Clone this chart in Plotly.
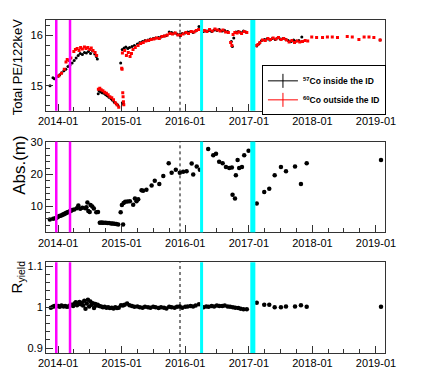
import plotly.graph_objects as go
from plotly.subplots import make_subplots

# ---- panel 1: total PE / 122 keV ----
pe_in_dates = [
    "2013-11-15", "2013-12-02", "2013-12-10", "2014-01-01", "2014-01-10", "2014-01-22",
    "2014-02-03", "2014-02-14", "2014-02-26", "2014-03-10", "2014-03-22", "2014-04-03",
    "2014-04-14", "2014-04-26", "2014-05-08", "2014-05-20", "2014-06-01", "2014-06-12",
    "2014-06-24", "2014-07-06", "2014-07-18", "2014-07-30", "2014-08-08", "2014-08-14",
    "2014-08-19", "2014-08-24", "2014-09-01", "2014-09-10", "2014-09-20", "2014-10-01",
    "2014-10-10", "2014-10-20", "2014-11-01", "2014-11-10", "2014-11-20", "2014-12-01",
    "2014-12-10", "2014-12-26", "2015-01-05", "2015-01-10", "2015-01-04", "2015-01-15",
    "2015-01-25", "2015-02-05", "2015-02-15", "2015-03-01", "2015-03-15", "2015-04-01",
    "2015-04-15", "2015-05-01", "2015-05-15", "2015-06-01", "2015-06-15", "2015-07-01",
    "2015-07-15", "2015-08-01", "2015-08-15", "2015-09-01", "2015-09-15", "2015-10-01",
    "2015-10-15", "2015-11-01", "2015-11-15", "2015-12-01", "2015-12-15", "2016-01-01",
    "2016-01-15", "2016-02-01", "2016-02-15", "2016-03-01", "2016-03-20", "2016-04-15",
    "2016-05-01", "2016-05-15", "2016-06-01", "2016-06-15", "2016-07-01", "2016-07-15",
    "2016-08-01", "2016-08-15", "2016-09-01", "2016-09-22", "2016-09-28", "2016-10-06",
    "2016-10-18", "2016-11-01", "2016-11-15", "2016-12-01", "2016-12-15", "2017-02-15",
    "2017-03-01", "2017-03-15", "2017-04-01", "2017-04-15", "2017-05-01", "2017-05-15",
    "2017-06-01", "2017-06-15", "2017-07-01", "2017-07-15", "2017-08-01", "2017-08-15",
    "2017-09-01", "2017-09-15", "2017-10-01", "2017-10-15", "2017-11-01", "2019-01-25",
]
pe_in = [
    15.00, 15.16, 15.14, 15.19, 15.22, 15.26,
    15.30, 15.33, 15.38, 15.41, 15.45, 15.50,
    15.55, 15.60, 15.64, 15.62, 15.66, 15.65,
    15.68, 15.64, 15.69, 15.63, 15.58, 15.53,
    14.84, 14.90, 14.88, 14.86, 14.85, 14.82,
    14.80, 14.77, 14.74, 14.71, 14.67, 14.64,
    14.61, 15.45, 14.66, 14.64, 15.72, 15.75,
    15.77, 15.74, 15.76, 15.78, 15.80, 15.83,
    15.86, 15.88, 15.90, 15.91, 15.93, 15.94,
    15.95, 15.96, 15.97, 15.99, 16.00, 16.07,
    16.06, 16.05, 16.03, 16.02, 16.04, 16.05,
    16.07, 16.08, 16.06, 16.09, 16.18, 16.08,
    16.09, 16.10, 16.08, 16.11, 16.10, 16.12,
    16.09, 16.10, 16.08, 15.88, 15.78, 15.95,
    16.07, 16.08, 16.06, 16.09, 16.07, 15.79,
    15.84, 15.90, 15.92, 15.93, 15.91, 15.94,
    15.92, 15.95, 15.93, 15.94, 15.92, 15.90,
    15.88, 15.91, 15.89, 15.90, 15.97, 15.91,
]

pe_out_dates = [
    "2014-01-05", "2014-01-20", "2014-02-05", "2014-02-15", "2014-02-22", "2014-03-05",
    "2014-03-15", "2014-04-01", "2014-04-10", "2014-04-20", "2014-05-01", "2014-05-10",
    "2014-05-20", "2014-06-01", "2014-06-10", "2014-06-20", "2014-07-01", "2014-07-10",
    "2014-07-20", "2014-08-01", "2014-08-10", "2014-08-20", "2014-08-28", "2014-09-05",
    "2014-09-15", "2014-09-25", "2014-10-05", "2014-10-15", "2014-10-25", "2014-11-05",
    "2014-11-15", "2014-11-25", "2014-12-05", "2014-12-15", "2015-01-01", "2015-01-03",
    "2015-01-07", "2015-01-09", "2015-01-11", "2015-01-13", "2015-01-05", "2015-01-18",
    "2015-01-28", "2015-02-08", "2015-02-18", "2015-02-26", "2015-03-07", "2015-03-20",
    "2015-04-05", "2015-04-20", "2015-05-05", "2015-05-20", "2015-06-05", "2015-06-20",
    "2015-07-05", "2015-07-20", "2015-08-05", "2015-08-20", "2015-09-05", "2015-09-20",
    "2015-10-05", "2015-10-20", "2015-11-05", "2015-11-20", "2015-12-05", "2015-12-20",
    "2016-01-05", "2016-01-20", "2016-02-05", "2016-02-20", "2016-03-05", "2016-03-18",
    "2016-04-20", "2016-05-05", "2016-05-20", "2016-06-05", "2016-06-20", "2016-07-05",
    "2016-07-20", "2016-08-05", "2016-08-20", "2016-09-05", "2016-09-18", "2016-09-25",
    "2016-10-02", "2016-10-12", "2016-10-25", "2016-11-05", "2016-11-20", "2016-12-05",
    "2016-12-20", "2017-02-12", "2017-02-22", "2017-03-05", "2017-03-20", "2017-04-05",
    "2017-04-20", "2017-05-05", "2017-05-20", "2017-06-05", "2017-06-20", "2017-07-05",
    "2017-07-20", "2017-08-05", "2017-08-20", "2017-09-05", "2017-09-20", "2017-10-05",
    "2017-10-20", "2017-11-05", "2017-11-20", "2017-12-05", "2017-12-28", "2018-01-25",
    "2018-02-28", "2018-03-28", "2018-04-25", "2018-05-25", "2018-07-20", "2018-08-18",
    "2018-09-25", "2018-10-25", "2018-11-22", "2018-12-20", "2019-01-25",
]
pe_out = [
    15.20, 15.25, 15.33, 15.47, 15.52, 15.50,
    15.55, 15.68, 15.72, 15.74, 15.70, 15.76,
    15.73, 15.77, 15.74, 15.76, 15.72, 15.75,
    15.70, 15.66, 15.60, 14.93, 14.95, 14.92,
    14.90, 14.87, 14.85, 14.82, 14.78, 14.76,
    14.72, 14.66, 14.62, 14.57, 15.35, 15.33,
    14.86, 14.78, 14.68, 14.62, 15.65, 15.70,
    15.60, 15.66, 15.58, 15.64, 15.72, 15.76,
    15.80, 15.84, 15.86, 15.89, 15.90, 15.92,
    15.93, 15.95, 15.94, 15.98, 15.99, 16.01,
    16.04, 16.03, 16.05, 16.01, 16.00, 16.03,
    16.06, 16.04, 16.08, 16.07, 16.10, 16.12,
    16.10, 16.08, 16.12, 16.09, 16.13, 16.11,
    16.09, 16.11, 16.07, 16.06, 15.86, 15.80,
    16.02, 16.06, 16.05, 16.07, 16.04, 16.08,
    16.06, 15.80, 15.82, 15.86, 15.91, 15.90,
    15.94, 15.92, 15.95, 15.93, 15.96, 15.92,
    15.94, 15.91, 15.87, 15.90, 15.86, 15.89,
    15.87, 15.88, 15.90, 15.89, 15.97, 15.96,
    15.96, 15.97, 15.97, 15.96, 15.98, 15.97,
    15.92, 15.97, 15.97, 15.96, 15.91,
]

# ---- panel 2: absorption length (m) ----
abs_dates = [
    "2013-11-14", "2013-12-03", "2013-12-15", "2013-12-22", "2013-12-30", "2014-01-07",
    "2014-01-14", "2014-01-22", "2014-01-28", "2014-02-03", "2014-02-09", "2014-02-14",
    "2014-02-20", "2014-02-26", "2014-03-04", "2014-03-10", "2014-03-16", "2014-03-22",
    "2014-04-03", "2014-04-18", "2014-04-27", "2014-05-08", "2014-05-20", "2014-06-06",
    "2014-06-12", "2014-06-18", "2014-06-23", "2014-07-01", "2014-07-06", "2014-07-16",
    "2014-07-25", "2014-08-08", "2014-08-18", "2014-08-28", "2014-09-05", "2014-09-12",
    "2014-09-20", "2014-10-01", "2014-10-10", "2014-10-20", "2014-11-01", "2014-11-10",
    "2014-11-20", "2014-12-01", "2014-12-12", "2014-12-26", "2015-01-02", "2015-01-09",
    "2015-01-12", "2015-01-21", "2015-02-03", "2015-02-17", "2015-03-08", "2015-03-18",
    "2015-03-27", "2015-04-06", "2015-04-25", "2015-05-04", "2015-05-23", "2015-06-22",
    "2015-07-10", "2015-08-05", "2015-08-28", "2015-09-28", "2015-10-15", "2015-11-08",
    "2015-12-01", "2015-12-20", "2016-01-09", "2016-02-07", "2016-02-16", "2016-03-07",
    "2016-03-25", "2016-05-12", "2016-06-10", "2016-06-26", "2016-07-14", "2016-08-03",
    "2016-08-22", "2016-09-10", "2016-09-25", "2016-09-29", "2016-10-13", "2016-10-18",
    "2016-10-28", "2016-11-06", "2016-11-22", "2016-12-05", "2016-12-30", "2017-02-15",
    "2017-03-30", "2017-04-28", "2017-05-29", "2017-07-04", "2017-08-02", "2017-09-23",
    "2017-10-27", "2017-11-29", "2019-01-30",
]
abs_len = [
    5.85, 6.06, 6.2, 6.3, 6.6, 6.9,
    7.0, 7.2, 7.4, 7.5, 7.7, 7.8,
    8.0, 8.1, 8.3, 8.4, 8.6, 8.8,
    9.0, 9.4, 10.2, 9.2, 9.5, 9.4,
    9.7, 11.2, 8.5, 8.2, 10.4, 9.9,
    9.3, 8.1, 8.2, 4.85, 4.9, 4.85,
    4.8, 4.8, 4.75, 4.7, 4.6, 4.55,
    4.5, 4.45, 4.3, 8.1, 10.4, 4.3,
    11.0, 11.4, 11.5, 11.6, 10.5, 12.4,
    11.6, 12.2, 15.0, 14.9, 15.2, 16.5,
    18.0, 17.0, 19.5, 23.5, 20.5, 21.5,
    20.5, 20.8, 21.0, 23.4, 20.0, 22.5,
    21.5, 28.0, 26.0, 26.5, 24.0, 23.5,
    22.3, 22.0, 22.2, 13.6, 12.4, 19.7,
    24.5, 22.0, 22.3, 26.0, 27.4, 10.9,
    14.5, 15.5, 19.7, 22.3, 21.0, 22.5,
    17.0, 23.5, 24.5,
]

# ---- panel 3: R_yield ----
r_dates = [
    "2013-11-20", "2013-12-01", "2013-12-10", "2013-12-20", "2014-01-01", "2014-01-10",
    "2014-01-20", "2014-02-01", "2014-02-10", "2014-02-20", "2014-03-01", "2014-03-10",
    "2014-03-20", "2014-03-28", "2014-04-05", "2014-04-12", "2014-04-19", "2014-04-26",
    "2014-05-03", "2014-05-10", "2014-05-17", "2014-05-24", "2014-05-31", "2014-06-07",
    "2014-06-14", "2014-06-21", "2014-06-28", "2014-07-05", "2014-07-12", "2014-07-19",
    "2014-07-26", "2014-08-02", "2014-08-09", "2014-08-16", "2014-08-25", "2014-09-05",
    "2014-09-15", "2014-09-25", "2014-10-05", "2014-10-15", "2014-10-25", "2014-11-05",
    "2014-11-15", "2014-11-25", "2014-12-05", "2014-12-15", "2014-12-28", "2015-01-08",
    "2015-01-18", "2015-02-01", "2015-02-15", "2015-03-01", "2015-03-15", "2015-04-01",
    "2015-04-15", "2015-05-01", "2015-05-15", "2015-06-01", "2015-06-15", "2015-07-01",
    "2015-07-15", "2015-08-01", "2015-08-15", "2015-09-01", "2015-09-15", "2015-10-01",
    "2015-10-15", "2015-11-01", "2015-11-15", "2015-12-01", "2015-12-15", "2016-01-01",
    "2016-01-15", "2016-02-01", "2016-02-15", "2016-03-01", "2016-03-20", "2016-04-15",
    "2016-05-01", "2016-05-15", "2016-06-01", "2016-06-15", "2016-07-01", "2016-07-15",
    "2016-08-01", "2016-08-15", "2016-09-01", "2016-09-15", "2016-10-01", "2016-10-15",
    "2016-11-01", "2016-11-15", "2016-12-01", "2016-12-20", "2017-02-15", "2017-03-30",
    "2017-04-28", "2017-05-29", "2017-07-04", "2017-08-02", "2017-09-23", "2017-10-27",
    "2017-11-29", "2019-01-30",
]
r_yield = [
    0.999, 1.001, 1.003, 1.002, 1.003, 1.001,
    1.004, 1.002, 1.003, 1.001, 1.002, 1.004,
    1.006, 1.003, 1.009, 1.012, 1.005, 1.010,
    1.013, 1.007, 1.011, 1.004, 1.016, 0.996,
    1.009, 1.018, 1.002, 1.014, 1.006, 1.010,
    0.998, 1.008, 1.004, 1.006, 1.003, 1.002,
    1.000, 1.001, 0.999, 1.000, 0.998, 0.999,
    0.997, 1.000, 0.998, 0.999, 1.005, 1.004,
    1.006, 1.009, 1.005, 1.003, 1.001, 1.002,
    1.000, 0.999, 1.001, 1.000, 0.999, 1.001,
    1.000, 0.998, 1.000, 0.999, 0.997, 1.001,
    1.000, 0.999, 1.001, 1.002, 0.999, 1.001,
    1.002, 1.003, 1.002, 1.004, 1.007, 1.000,
    1.002, 1.001, 1.003, 1.002, 1.004, 1.003,
    1.003, 1.004, 1.002, 1.001, 1.000, 0.999,
    0.998, 0.996, 0.995, 0.995, 1.011, 1.006,
    1.006, 1.000, 1.000, 1.002, 1.002, 1.005,
    1.001, 1.001,
]

# ---- markers of detector events ----
magenta_dates = ["2013-12-21", "2014-03-10"]
dashed_date = "2015-12-02"
cyan_line_date = "2016-04-04"
cyan_band = ["2017-01-09", "2017-02-07"]

x_range = ["2013-10-23", "2019-02-22"]

fig = make_subplots(rows=3, cols=1)

fig.add_trace(go.Scatter(x=pe_in_dates, y=pe_in, mode="markers",
                         marker=dict(color="black", size=3),
                         error_y=dict(type="constant", value=0.008, color="black", thickness=1, width=0),
                         showlegend=False), row=1, col=1)
fig.add_trace(go.Scatter(x=pe_out_dates, y=pe_out, mode="markers",
                         marker=dict(color="red", size=3, symbol="square"),
                         error_y=dict(type="constant", value=0.015, color="red", thickness=1.5, width=0),
                         showlegend=False), row=1, col=1)
fig.add_trace(go.Scatter(x=abs_dates, y=abs_len, mode="markers",
                         marker=dict(color="black", size=4.5), showlegend=False), row=2, col=1)
fig.add_trace(go.Scatter(x=r_dates, y=r_yield, mode="markers",
                         marker=dict(color="black", size=4.5), showlegend=False), row=3, col=1)

# legend entries drawn as a cross, like ROOT's error-bar markers
fig.add_trace(go.Scatter(x=[None], y=[None], mode="lines+markers",
                         name="<b><sup>57</sup>Co inside the ID</b>",
                         line=dict(color="black", width=1),
                         marker=dict(symbol="line-ns", size=10, line=dict(color="black", width=1))),
              row=1, col=1)
fig.add_trace(go.Scatter(x=[None], y=[None], mode="lines+markers",
                         name="<b><sup>60</sup>Co outside the ID</b>",
                         line=dict(color="red", width=1),
                         marker=dict(symbol="line-ns", size=10, line=dict(color="red", width=1))),
              row=1, col=1)

for i, xr in enumerate(["x", "x2", "x3"]):
    yr = ["y", "y2", "y3"][i] + " domain"
    for d in magenta_dates:
        fig.add_shape(type="line", xref=xr, yref=yr, x0=d, x1=d, y0=0, y1=1,
                      line=dict(color="#ff00ff", width=2.5), layer="above")
    fig.add_shape(type="line", xref=xr, yref=yr, x0=dashed_date, x1=dashed_date, y0=0, y1=1,
                  line=dict(color="black", width=1, dash="dot"), layer="above")
    fig.add_shape(type="line", xref=xr, yref=yr, x0=cyan_line_date, x1=cyan_line_date, y0=0, y1=1,
                  line=dict(color="#00ffff", width=3), layer="above")
    fig.add_shape(type="rect", xref=xr, yref=yr, x0=cyan_band[0], x1=cyan_band[1], y0=0, y1=1,
                  fillcolor="#00ffff", line=dict(width=0), layer="above")

axis_font = dict(family="Liberation Sans, Arial", size=11, color="black")
xcommon = dict(type="date", range=x_range, tickformat="%Y-%m", dtick="M12", tick0="2014-01-01",
               ticks="inside", ticklen=7, tickcolor="#333", showgrid=False, zeroline=False,
               showline=True, linecolor="#333", linewidth=1, mirror=True, tickfont=axis_font,
               minor=dict(dtick="M3", ticks="inside", ticklen=4, tickcolor="#333"))
ycommon = dict(ticks="inside", ticklen=7, tickcolor="#333", showgrid=False, zeroline=False,
               showline=True, linecolor="#333", linewidth=1, mirror=True, tickfont=axis_font)

# the page body has an 8px margin, so the figure is a little smaller than the window
fig.update_layout(
    width=424, height=368,
    margin=dict(l=38, r=47, t=7, b=16),
    paper_bgcolor="white", plot_bgcolor="white",
    font=dict(family="Liberation Sans, Arial", color="black"),
    xaxis=dict(xcommon, domain=[0, 1]),
    xaxis2=dict(xcommon, domain=[0, 1]),
    xaxis3=dict(xcommon, domain=[0, 1]),
    yaxis=dict(ycommon, domain=[0.7275, 1.0], range=[14.5, 16.31], dtick=1,
               minor=dict(dtick=0.2, ticks="inside", ticklen=4, tickcolor="#333")),
    yaxis2=dict(ycommon, domain=[0.3623, 0.6348], range=[1.8, 30.3], dtick=10, tick0=0,
                minor=dict(dtick=2, ticks="inside", ticklen=4, tickcolor="#333")),
    yaxis3=dict(ycommon, domain=[0.0, 0.2725], range=[0.888, 1.11],
                tickvals=[0.9, 1.0, 1.1], ticktext=["0.9", "1", "1.1"],
                minor=dict(dtick=0.02, ticks="inside", ticklen=4, tickcolor="#333")),
    legend=dict(x=0.637, y=0.8638, xanchor="left", yanchor="top", itemwidth=30,
                bordercolor="black", borderwidth=1, bgcolor="white", tracegroupgap=0,
                font=dict(family="Liberation Sans, Arial", size=8.5, color="black")),
    annotations=[
        dict(text="Total PE/122keV", xref="paper", yref="paper", x=-0.0855, y=0.858,
             xanchor="center", yanchor="middle", textangle=-90, showarrow=False,
             font=dict(size=13)),
        dict(text="Abs.(m)", xref="paper", yref="paper", x=-0.078, y=0.5638,
             xanchor="center", yanchor="middle", textangle=-90, showarrow=False,
             font=dict(size=17)),
        dict(text="R<sub>yield</sub>", xref="paper", yref="paper", x=-0.085, y=0.2275,
             xanchor="center", yanchor="middle", textangle=-90, showarrow=False,
             font=dict(size=15)),
    ],
)

fig.write_html("out.html")
